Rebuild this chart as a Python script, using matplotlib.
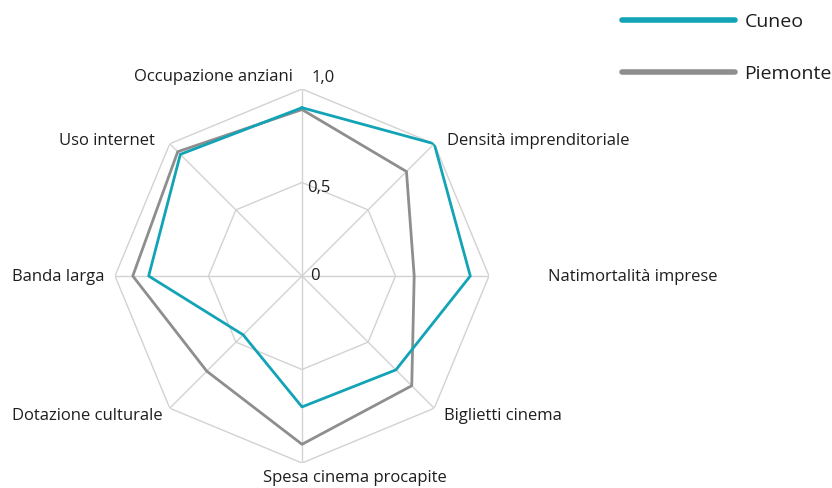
import numpy as np
import matplotlib
matplotlib.use("Agg")
import matplotlib.pyplot as plt

plt.rcParams['font.family'] = ['Open Sans', 'DejaVu Sans']

# categories clockwise from the top
categories = ["Occupazione anziani", "Densità imprenditoriale", "Natimortalità imprese",
              "Biglietti cinema", "Spesa cinema procapite", "Dotazione culturale",
              "Banda larga", "Uso internet"]
cuneo = [0.90, 1.00, 0.90, 0.71, 0.70, 0.445, 0.82, 0.92]
piemonte = [0.89, 0.79, 0.60, 0.83, 0.90, 0.72, 0.905, 0.94]
ring_values = [0.5, 1.0]
ring_labels = ["0,5", "1,0"]

CUNEO_COL = "#12a4b6"
PIEM_COL = "#8e8e8e"
GRID_COL = "#d2d2d2"
TXT = "#1e1e1e"

n = len(categories)
angles = np.arange(n) * 2 * np.pi / n
closed = np.append(angles, angles[0])

fig = plt.figure(figsize=(8.32, 4.88), dpi=100)
ax = fig.add_axes([115 / 832, 25 / 488, 374 / 832, 374 / 488], projection='polar')
ax.set_theta_zero_location('N')
ax.set_theta_direction(-1)
ax.set_ylim(0, 1.0)
ax.grid(False)
ax.spines['polar'].set_visible(False)
ax.set_xticks([])
ax.set_yticks([])
ax.patch.set_alpha(0)

# octagonal grid
for rv in ring_values:
    ax.plot(closed, [rv] * (n + 1), color=GRID_COL, lw=1, zorder=1)
for a in angles:
    ax.plot([a, a], [0, 1.0], color=GRID_COL, lw=1, zorder=1)

ax.plot(closed, piemonte + piemonte[:1], color=PIEM_COL, lw=2, label="Piemonte", zorder=3)
ax.plot(closed, cuneo + cuneo[:1], color=CUNEO_COL, lw=2, label="Cuneo", zorder=4)

# radial value labels
ax.annotate(ring_labels[1], xy=(0, 1.0), xytext=(10, 11), textcoords='offset pixels',
            ha='left', va='center', fontsize=12, color=TXT)
ax.annotate(ring_labels[0], xy=(0, 0.5), xytext=(5, -5), textcoords='offset pixels',
            ha='left', va='center', fontsize=12, color=TXT)
ax.annotate("0", xy=(0, 0), xytext=(8, 0), textcoords='offset pixels',
            ha='left', va='center', fontsize=12, color=TXT)

# category labels: (dx, dy, ha)
label_pos = [(-9, 12, 'right'), (13, 3, 'left'), (59, -1, 'left'), (10, -8, 'left'),
             (-39, -15, 'left'), (-7, -8, 'right'), (-10, -1, 'right'), (-15, 3, 'right')]
for a, lab, (dx, dy, ha) in zip(angles, categories, label_pos):
    ax.annotate(lab, xy=(a, 1.0), xytext=(dx, dy), textcoords='offset pixels',
                ha=ha, va='center', fontsize=12, color=TXT)

h, l = ax.get_legend_handles_labels()
leg = fig.legend(h[::-1], l[::-1], loc='upper left', bbox_to_anchor=(622 / 832, 1 - 13 / 488),
                 frameon=False, fontsize=14, handlelength=5.8, handletextpad=0.5,
                 labelspacing=1.75, borderpad=0, borderaxespad=0)
for line in leg.get_lines():
    line.set_linewidth(4)
    line.set_solid_capstyle('round')
for t in leg.get_texts():
    t.set_color(TXT)

fig.savefig("out.png", dpi=100)
